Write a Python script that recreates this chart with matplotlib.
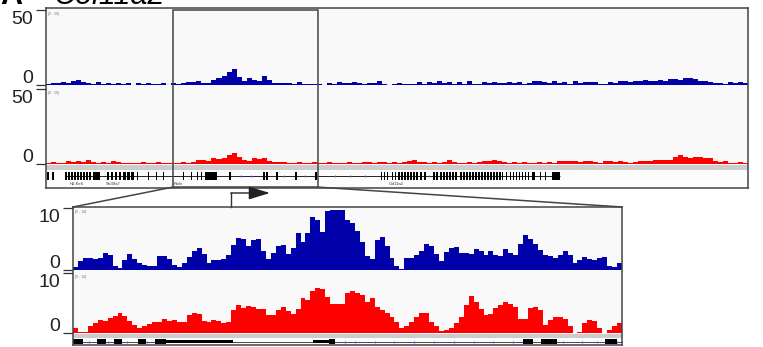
import matplotlib.pyplot as plt
import numpy as np
from matplotlib.patches import Rectangle, ConnectionPatch

plt.rcParams['font.family'] = ['Liberation Sans', 'DejaVu Sans']

W, H = 763, 347

# ---- signal data ----
# whole locus, 140 bins
top_blue = [1.0, 1.5, 1.2, 2.0, 1.5, 2.5, 3.3, 2.0, 1.5, 1.0,
            1.8, 0.5, 1.2, 0.5, 1.5, 0.4, 1.2, 0.3, 1.5, 0.5,
            1.3, 1.0, 0.4, 1.6, 0.3, 1.2, 0.8, 1.2, 2.2, 2.0,
            2.4, 1.5, 1.1, 3.3, 5.0, 6.0, 8.5, 11.0, 5.5, 3.0,
            4.4, 3.3, 3.0, 6.0, 3.3, 1.5, 1.5, 1.3, 1.5, 1.0,
            2.0, 0.6, 0.7, 0.5, 1.0, 0.3, 1.5, 1.0, 1.8, 1.2,
            1.5, 2.0, 1.3, 1.0, 1.6, 1.2, 3.0, 1.0, 0.3, 1.0,
            1.2, 0.8, 0.4, 0.8, 2.2, 1.0, 2.0, 1.5, 2.5, 1.2,
            2.2, 1.0, 2.0, 0.8, 2.5, 0.5, 0.4, 1.8, 1.5, 1.8,
            1.6, 1.5, 2.0, 1.2, 1.8, 1.0, 1.5, 2.5, 2.8, 2.0,
            1.5, 2.5, 1.2, 2.0, 0.8, 3.0, 1.5, 2.0, 1.8, 2.2,
            0.5, 1.0, 2.0, 1.5, 2.8, 2.5, 2.0, 3.0, 2.8, 3.2,
            2.5, 3.0, 3.5, 3.0, 3.8, 4.0, 3.5, 4.5, 5.0, 4.2,
            3.0, 2.5, 2.0, 1.2, 1.5, 1.0, 1.8, 1.2, 2.0, 1.5]
top_red = [0.8, 1.2, 0.9, 1.0, 1.8, 1.5, 2.2, 1.6, 2.8, 1.5,
           1.0, 1.2, 0.8, 2.0, 1.2, 0.6, 1.0, 0.8, 1.0, 1.5,
           0.7, 0.8, 1.6, 0.8, 1.0, 0.6, 0.9, 1.2, 0.8, 1.5,
           2.5, 2.8, 2.3, 3.8, 3.5, 4.0, 6.0, 7.2, 5.0, 2.5,
           2.0, 4.0, 3.5, 3.8, 2.0, 1.5, 1.2, 1.4, 1.0, 0.9,
           1.2, 0.8, 1.0, 1.5, 0.8, 0.9, 1.2, 0.8, 0.5, 1.0,
           1.4, 0.7, 1.0, 1.5, 1.2, 0.8, 1.2, 1.5, 1.0, 1.3,
           0.9, 1.5, 1.8, 2.7, 1.5, 1.2, 1.0, 1.2, 0.8, 1.5,
           2.5, 1.2, 0.9, 1.0, 1.3, 1.0, 1.5, 1.8, 2.0, 2.7,
           2.2, 1.2, 1.0, 1.5, 0.8, 1.2, 1.0, 0.8, 1.3, 1.0,
           1.2, 0.9, 1.8, 2.0, 1.8, 2.2, 1.5, 2.0, 2.2, 1.5,
           1.0, 1.8, 2.0, 1.2, 1.8, 1.5, 1.0, 1.6, 1.8, 2.2,
           2.0, 2.5, 2.8, 2.4, 3.0, 4.5, 6.2, 4.8, 4.2, 4.6,
           4.4, 3.8, 4.0, 2.0, 1.2, 1.8, 1.0, 0.8, 1.2, 0.9]

# zoomed region, 111 bins
zoom_blue = [0.5, 1.5, 2.0, 1.9, 1.7, 2.0, 2.7, 2.5, 0.6, 0.4,
             1.6, 2.6, 1.8, 1.2, 0.8, 0.6, 0.6, 2.2, 2.2, 1.8,
             0.8, 0.5, 1.2, 2.1, 3.0, 3.6, 2.6, 1.2, 1.6, 1.6,
             1.7, 2.5, 4.0, 5.1, 5.0, 3.8, 4.9, 5.0, 3.0, 1.8,
             2.8, 3.8, 4.0, 2.6, 3.5, 5.9, 4.5, 6.0, 8.5, 8.0,
             6.2, 9.5, 9.7, 9.7, 9.7, 8.1, 7.6, 6.3, 4.5, 2.3,
             1.8, 4.8, 5.3, 3.8, 2.0, 0.6, 0.2, 1.9, 2.0, 2.5,
             3.0, 4.2, 3.8, 2.6, 1.4, 2.9, 3.6, 3.7, 2.8, 2.7,
             2.6, 3.4, 3.0, 2.4, 3.0, 2.5, 2.2, 3.4, 2.7, 2.5,
             4.2, 5.6, 5.0, 4.2, 3.2, 2.5, 2.3, 1.9, 2.5, 3.1,
             2.4, 1.2, 1.6, 2.1, 1.8, 1.6, 1.9, 2.1, 0.6, 0.5,
             1.2]
zoom_red = [0.9, 0.1, 0.1, 1.2, 1.7, 2.1, 2.0, 2.5, 2.8, 3.3,
            2.9, 2.0, 1.3, 0.8, 1.2, 1.5, 1.9, 1.8, 2.3, 2.0,
            2.2, 1.9, 1.8, 3.0, 3.4, 3.1, 2.0, 1.9, 2.1, 2.0,
            1.6, 1.8, 3.9, 4.6, 4.2, 4.5, 4.3, 4.0, 4.0, 3.0,
            3.0, 3.9, 4.4, 3.7, 3.2, 4.0, 5.8, 5.5, 7.0, 7.5,
            7.4, 6.0, 4.9, 4.9, 4.9, 6.6, 7.0, 6.7, 6.3, 5.2,
            5.9, 4.4, 3.8, 3.4, 2.7, 1.9, 0.8, 1.2, 1.8, 2.6,
            3.4, 3.4, 1.9, 1.1, 0.3, 0.5, 0.8, 1.7, 2.7, 4.6,
            6.1, 5.2, 4.0, 3.0, 3.2, 4.2, 4.7, 5.1, 4.9, 4.4,
            2.4, 2.4, 4.1, 4.4, 3.8, 1.4, 2.1, 2.6, 2.6, 2.4,
            1.2, 0.0, 0.2, 1.6, 2.1, 2.0, 0.8, 0.0, 0.5, 1.1,
            1.6]

top_max = 50
zoom_max = 10
zoom_span = (25.3, 54.2)   # part of the locus shown below
tss = 32.0                 # in zoomed-track units
tss_tip = 39.8

# genes on the whole locus (same units as the 140 bins)
gene_line = (3.8, 102.5)
small_exons = [0.2, 1.2, 3.8, 4.4, 5.0, 5.6, 6.2, 6.8, 7.4, 8.0, 8.6,
               12.2, 13.0, 13.8, 14.6, 18.1, 20.3, 21.9, 23.3, 27.3, 28.9,
               30.1, 30.9, 36.5, 43.3, 43.9, 45.9, 49.7, 53.7,
               66.8, 67.4, 68.0, 69.0, 69.6, 70.2, 70.8, 71.4, 72.0, 72.6,
               73.2, 73.8, 74.6, 75.4, 77.2, 77.8, 78.6, 79.2, 79.8, 80.4,
               81.0, 81.6, 82.6, 83.2, 83.8, 84.4, 85.0, 85.6, 86.2, 86.8,
               87.4, 88.0, 88.6, 89.2, 89.8, 90.4, 90.9, 91.7, 92.5, 93.1,
               93.7, 94.3, 94.9, 95.5, 96.1, 98.5, 99.5]
big_exons = [(9.4, 1.4), (15.4, 0.6), (16.2, 0.6), (17.0, 0.6),
             (31.7, 2.4), (96.9, 0.6), (100.9, 1.6)]
intron_marks = [38.9, 40.9, 47.5, 51.7, 57.6, 60.6, 63.6, 76.4]
gene_names = ['H2-Ke6', 'Slc39a7', 'Rxrb', 'Col11a2']
gene_name_pos = [4.8, 12.0, 25.4, 68.3]

# gene model in the zoomed region
zoom_exons = [(0.0, 2.0), (4.85, 1.8), (8.3, 1.6), (13.1, 1.6), (16.6, 2.2),
              (51.8, 1.2), (91.0, 2.0), (94.6, 3.2), (107.6, 2.4)]
zoom_utr = [(18.8, 13.5), (48.5, 3.4)]
zoom_marks = [3.3, 7.0, 11.0, 15.0, 55.0, 57.0, 61.0, 65.0, 69.0, 73.0,
              77.0, 81.0, 85.0, 89.0, 99.0, 103.0, 106.0, 110.0]

BLUE = '#0000aa'
RED = '#ff0000'
EDGE = '#444444'
BG = '#f9f9f9'

fig = plt.figure(figsize=(W / 100, H / 100), dpi=100)


def px_axes(x0, y0, x1, y1, **kw):
    return fig.add_axes([x0 / W, 1 - y1 / H, (x1 - x0) / W, (y1 - y0) / H], **kw)


def bare(ax):
    for s in ax.spines.values():
        s.set_visible(False)
    ax.set_xticks([])
    ax.set_yticks([])


def signal_track(ax, values, color, ymax, baseline=False):
    n = len(values)
    x = np.arange(n + 1)
    y = np.append(values, values[-1])
    ax.fill_between(x, y, step='post', color=color, lw=0)
    if baseline:
        ax.axhline(0, color=color, lw=0.8)
    ax.set_xlim(0, n)
    ax.set_ylim(0, ymax)
    ax.set_facecolor(BG)
    bare(ax)
    ax.set_yticks([0, ymax])
    ax.tick_params(axis='y', length=7.5, width=0.9, color='#333333',
                   labelleft=False)
    ax.annotate(str(ymax), xy=(0, ymax), xycoords=('axes fraction', 'data'),
                xytext=(-9.5, -0.5), textcoords='offset points',
                ha='right', va='top', fontsize=14, color='#222222')
    ax.annotate('0', xy=(0, 0), xycoords=('axes fraction', 'data'),
                xytext=(-9.5, 1.5), textcoords='offset points',
                ha='right', va='baseline', fontsize=14, color='#222222')
    ax.text(0.003, 0.97, '[0 - %d]' % ymax, transform=ax.transAxes,
            fontsize=2.5, color='#777777', va='top')


def band(ax):
    ax.set_facecolor('#cdcdcd')
    bare(ax)


# ---- upper panel ----
n_top = len(top_blue)
fill = px_axes(46, 8, 748, 188)
fill.set_facecolor(BG)
bare(fill)
ax_b = px_axes(46, 10, 748, 85)
signal_track(ax_b, top_blue, BLUE, top_max, baseline=True)
ax_r = px_axes(46, 89, 748, 164)
signal_track(ax_r, top_red, RED, top_max, baseline=True)
band(px_axes(46, 165, 748, 170))

ax_g = px_axes(46, 170, 748, 188)
ax_g.set_facecolor('#fcfcfc')
bare(ax_g)
ax_g.set_xlim(0, n_top)
ax_g.set_ylim(-2, 1)
ax_g.hlines(0, *gene_line, color='black', lw=0.6)
ax_g.bar(small_exons, 1.2, width=0.3, bottom=-0.6, align='edge', color='black')
ax_g.bar([e[0] for e in big_exons], 1.2, width=[e[1] for e in big_exons],
         bottom=-0.6, align='edge', color='black')
ax_g.plot(intron_marks, np.zeros(len(intron_marks)), ls='none', marker='|',
          ms=2, color='#4466ff', mew=0.8)
for name, pos in zip(gene_names, gene_name_pos):
    ax_g.text(pos, -1.4, name, fontsize=3, color='#333333', va='center')

top_out = px_axes(46, 8, 748, 188, zorder=5)
top_out.patch.set_alpha(0)
top_out.set_xticks([])
top_out.set_yticks([])
top_out.set_xlim(0, n_top)
for s in top_out.spines.values():
    s.set_color(EDGE)
    s.set_linewidth(1.1)
top_out.add_patch(Rectangle((zoom_span[0], 0.005), zoom_span[1] - zoom_span[0],
                            0.985, transform=top_out.get_xaxis_transform(),
                            fill=False, ec=EDGE, lw=1.1))

# ---- lower (zoomed) panel ----
n_zoom = len(zoom_blue)
zfill = px_axes(73, 207, 622, 345)
zfill.set_facecolor(BG)
bare(zfill)
zb = px_axes(73, 208, 622, 270)
signal_track(zb, zoom_blue, BLUE, zoom_max)
zr = px_axes(73, 273, 622, 333)
signal_track(zr, zoom_red, RED, zoom_max)
band(px_axes(73, 334, 622, 338))

zg = px_axes(73, 338, 622, 345)
zg.set_facecolor('#fcfcfc')
bare(zg)
zg.set_xlim(0, n_zoom)
zg.set_ylim(-1, 1)
zg.hlines(0, 0, n_zoom, color='black', lw=0.5)
zg.bar([e[0] for e in zoom_exons], 1.4, width=[e[1] for e in zoom_exons],
       bottom=-0.7, align='edge', color='black')
zg.bar([e[0] for e in zoom_utr], 0.6, width=[e[1] for e in zoom_utr],
       bottom=-0.3, align='edge', color='black')
zg.plot(zoom_marks, np.zeros(len(zoom_marks)), ls='none', marker='|',
        ms=2, color='#4466ff', mew=0.8)

low_out = px_axes(73, 207, 622, 345, zorder=5)
low_out.patch.set_alpha(0)
low_out.set_xticks([])
low_out.set_yticks([])
low_out.set_xlim(0, n_zoom)
for s in low_out.spines.values():
    s.set_color(EDGE)
    s.set_linewidth(1.1)

# TSS arrow above the zoomed panel
rise = 1 + 14 / 138
low_out.plot([tss, tss], [1, rise], color='#333333', lw=1.0,
             transform=low_out.get_xaxis_transform(), clip_on=False)
low_out.annotate('', xy=(tss_tip, rise), xytext=(tss - 0.1, rise),
                 xycoords=low_out.get_xaxis_transform(),
                 textcoords=low_out.get_xaxis_transform(),
                 arrowprops=dict(arrowstyle='-|>,head_length=1.3,head_width=0.4',
                                 mutation_scale=10, color='#222222', lw=1.0,
                                 shrinkA=0, shrinkB=0))

# lines from the highlighted region to the zoomed panel
for xa, xb in [(zoom_span[0], 0), (zoom_span[1], 1)]:
    con = ConnectionPatch(xyA=(xa, 0.005), coordsA=top_out.get_xaxis_transform(),
                          xyB=(xb, 1), coordsB=low_out.transAxes,
                          color=EDGE, lw=1.1)
    fig.add_artist(con)

# title, cut at the top edge as in the source figure
fig.text(0, 1 - 4.5 / H, 'A', fontsize=22, fontweight='bold', va='baseline')
fig.text(53 / W, 1 - 4.5 / H, 'Col11a2', fontsize=22, style='italic',
         va='baseline')

fig.savefig('out.png', dpi=100)
